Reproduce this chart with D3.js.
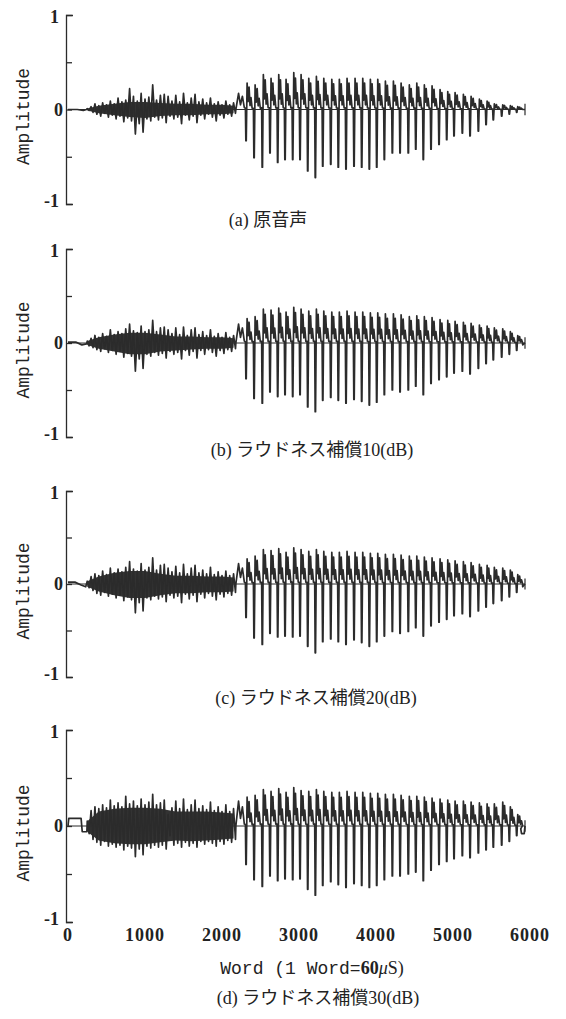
<!DOCTYPE html>
<html>
<head>
<meta charset="utf-8">
<script src="https://cdn.jsdelivr.net/npm/d3@7"></script>
<style>
  body { margin: 0; background: #fff; }
  svg { display: block; }
</style>
</head>
<body>
<svg id="chart" width="566" height="1019"></svg>
<script>
// time axis (words) and tick labels
var xTicks = [0, 1000, 2000, 3000, 4000, 5000, 6000];
var captions = ["(a) 原音声", "(b) ラウドネス補償10(dB)", "(c) ラウドネス補償20(dB)", "(d) ラウドネス補償30(dB)"];

// unvoiced (noise) part: sample times and upper / lower spikes
var noiseTimes = d3.range(250, 2151, 50);
var hiA = [0.01,0.03,0.06,0.04,0.07,0.05,0.09,0.06,0.12,0.08,0.10,0.22,0.14,0.09,0.17,0.11,0.13,0.26,0.10,0.15,0.16,0.14,0.09,0.15,0.08,0.17,0.07,0.12,0.16,0.08,0.11,0.07,0.12,0.06,0.08,0.05,0.09,0.05,0.07];
var loA = [-0.01,-0.03,-0.05,-0.07,-0.04,-0.08,-0.06,-0.10,-0.07,-0.13,-0.09,-0.12,-0.26,-0.15,-0.24,-0.10,-0.12,-0.08,-0.11,-0.09,-0.14,-0.07,-0.10,-0.08,-0.15,-0.06,-0.11,-0.07,-0.14,-0.06,-0.10,-0.05,-0.08,-0.12,-0.06,-0.09,-0.05,-0.07,-0.04];
var hiB = [0.02,0.05,0.08,0.06,0.10,0.07,0.14,0.09,0.12,0.10,0.15,0.20,0.13,0.11,0.18,0.12,0.14,0.24,0.12,0.16,0.17,0.14,0.10,0.16,0.09,0.17,0.08,0.14,0.16,0.09,0.12,0.08,0.14,0.07,0.10,0.06,0.11,0.06,0.08];
var loB = [-0.03,-0.05,-0.07,-0.09,-0.06,-0.10,-0.08,-0.12,-0.09,-0.15,-0.11,-0.14,-0.30,-0.17,-0.27,-0.12,-0.14,-0.10,-0.13,-0.11,-0.16,-0.09,-0.12,-0.10,-0.17,-0.08,-0.13,-0.09,-0.16,-0.08,-0.12,-0.07,-0.10,-0.14,-0.08,-0.11,-0.07,-0.09,-0.06];
var hiC = [0.03,0.08,0.11,0.09,0.14,0.10,0.17,0.12,0.16,0.13,0.18,0.24,0.16,0.14,0.22,0.15,0.18,0.28,0.15,0.20,0.21,0.17,0.13,0.19,0.12,0.21,0.11,0.17,0.20,0.12,0.15,0.11,0.18,0.10,0.13,0.09,0.14,0.09,0.11];
var loC = [-0.04,-0.07,-0.10,-0.12,-0.09,-0.13,-0.11,-0.15,-0.12,-0.18,-0.14,-0.17,-0.31,-0.20,-0.29,-0.15,-0.17,-0.13,-0.16,-0.14,-0.19,-0.12,-0.15,-0.13,-0.20,-0.11,-0.16,-0.12,-0.19,-0.11,-0.15,-0.10,-0.13,-0.17,-0.11,-0.14,-0.10,-0.12,-0.09];
var hiD = [0.05,0.16,0.20,0.18,0.22,0.19,0.27,0.21,0.24,0.20,0.31,0.23,0.26,0.21,0.28,0.22,0.25,0.33,0.22,0.24,0.27,0.12,0.19,0.26,0.18,0.28,0.17,0.22,0.27,0.18,0.21,0.17,0.25,0.16,0.20,0.15,0.22,0.15,0.18];
var loD = [-0.08,-0.14,-0.17,-0.20,-0.16,-0.21,-0.19,-0.22,-0.20,-0.25,-0.21,-0.23,-0.32,-0.24,-0.30,-0.21,-0.23,-0.20,-0.22,-0.20,-0.24,-0.10,-0.20,-0.18,-0.22,-0.17,-0.21,-0.18,-0.22,-0.16,-0.19,-0.16,-0.18,-0.21,-0.16,-0.19,-0.15,-0.17,-0.14];

// dense core of the noise: envelope of the dark band
var coreTimes = [250, 400, 600, 800, 1000, 1200, 1400, 1600, 1800, 2000, 2150];
var coreHiA = [0.01,0.04,0.06,0.08,0.08,0.07,0.06,0.06,0.05,0.05,0.04];
var coreLoA = [-0.01,-0.04,-0.06,-0.08,-0.09,-0.07,-0.06,-0.06,-0.05,-0.05,-0.04];
var coreHiB = [0.02,0.06,0.09,0.11,0.11,0.09,0.07,0.07,0.06,0.06,0.05];
var coreLoB = [-0.02,-0.06,-0.09,-0.12,-0.12,-0.09,-0.08,-0.07,-0.06,-0.06,-0.05];
var coreHiC = [0.03,0.08,0.12,0.14,0.14,0.11,0.09,0.09,0.08,0.08,0.07];
var coreLoC = [-0.03,-0.08,-0.12,-0.15,-0.15,-0.12,-0.10,-0.10,-0.09,-0.09,-0.08];
var coreHiD = [0.05,0.15,0.18,0.19,0.19,0.18,0.15,0.15,0.15,0.14,0.13];
var coreLoD = [-0.06,-0.15,-0.18,-0.19,-0.19,-0.17,-0.15,-0.16,-0.15,-0.14,-0.13];

// voiced part: time of each pitch-period trough, trough depth and following peak
var troughTimes = [2312,2416,2523,2623,2723,2818,2918,3013,3113,3212,3308,3412,3510,3610,3714,3814,3913,4009,4108,4212,4312,4419,4516,4614,4714,4818,4918,5013,5121,5221,5329,5429,5523,5632,5731,5827];
var troughsA = [-0.33,-0.51,-0.61,-0.46,-0.56,-0.53,-0.53,-0.53,-0.65,-0.72,-0.60,-0.58,-0.61,-0.63,-0.60,-0.61,-0.63,-0.61,-0.53,-0.46,-0.46,-0.46,-0.42,-0.53,-0.42,-0.37,-0.32,-0.28,-0.25,-0.28,-0.23,-0.16,-0.11,-0.07,-0.05,-0.03];
var peaksA = [0.28,0.26,0.37,0.33,0.37,0.32,0.39,0.37,0.33,0.35,0.33,0.32,0.32,0.33,0.33,0.33,0.32,0.32,0.30,0.30,0.28,0.26,0.28,0.26,0.25,0.21,0.19,0.18,0.16,0.14,0.11,0.09,0.06,0.05,0.04,0.03];
var troughsB = [-0.38,-0.59,-0.64,-0.52,-0.57,-0.55,-0.57,-0.55,-0.68,-0.73,-0.61,-0.58,-0.61,-0.64,-0.60,-0.62,-0.66,-0.63,-0.55,-0.50,-0.52,-0.50,-0.46,-0.55,-0.43,-0.39,-0.36,-0.32,-0.30,-0.33,-0.27,-0.22,-0.18,-0.15,-0.12,-0.08];
var peaksB = [0.26,0.28,0.36,0.35,0.37,0.33,0.38,0.36,0.34,0.36,0.34,0.33,0.33,0.34,0.33,0.33,0.32,0.32,0.31,0.31,0.30,0.28,0.29,0.28,0.27,0.25,0.24,0.23,0.22,0.21,0.19,0.18,0.16,0.15,0.12,0.08];
var troughsC = [-0.36,-0.58,-0.65,-0.53,-0.57,-0.56,-0.57,-0.56,-0.67,-0.74,-0.62,-0.59,-0.62,-0.65,-0.60,-0.63,-0.67,-0.62,-0.56,-0.51,-0.53,-0.51,-0.47,-0.56,-0.45,-0.41,-0.38,-0.34,-0.32,-0.35,-0.29,-0.25,-0.21,-0.18,-0.14,-0.09];
var peaksC = [0.27,0.30,0.37,0.36,0.38,0.34,0.39,0.37,0.35,0.37,0.35,0.34,0.34,0.35,0.34,0.34,0.33,0.33,0.32,0.32,0.31,0.30,0.30,0.29,0.28,0.27,0.26,0.25,0.24,0.23,0.21,0.20,0.18,0.17,0.15,0.10];
var troughsD = [-0.40,-0.56,-0.63,-0.52,-0.57,-0.55,-0.56,-0.55,-0.66,-0.72,-0.62,-0.58,-0.61,-0.64,-0.60,-0.62,-0.64,-0.62,-0.56,-0.52,-0.52,-0.50,-0.48,-0.57,-0.46,-0.40,-0.37,-0.34,-0.31,-0.33,-0.28,-0.25,-0.22,-0.20,-0.16,-0.10];
var peaksD = [0.30,0.32,0.38,0.36,0.39,0.35,0.40,0.37,0.36,0.38,0.36,0.35,0.35,0.36,0.35,0.35,0.34,0.34,0.33,0.33,0.32,0.31,0.31,0.30,0.29,0.28,0.27,0.26,0.26,0.25,0.24,0.23,0.23,0.25,0.20,0.12];

// short pieces before the noise, at voicing onset and after the last period [word, amplitude]
var leadA = [[0,0],[120,0],[200,-0.01],[240,0]];
var leadB = [[0,0.01],[100,0.01],[180,-0.02],[240,-0.01]];
var leadC = [[0,0.02],[90,0.02],[170,-0.01],[230,-0.03]];
var leadD = [[0,0],[10,0.08],[170,0.08],[185,-0.06],[245,-0.06]];
var onsetA = [[2180,0],[2215,0.17],[2240,0.05],[2265,0.14],[2290,0.02]];
var onsetB = [[2180,0],[2215,0.20],[2240,0.06],[2265,0.16],[2290,0.02]];
var onsetC = [[2180,0],[2215,0.22],[2240,0.07],[2265,0.17],[2290,0.02]];
var onsetD = [[2180,0],[2215,0.26],[2240,0.08],[2265,0.20],[2290,0.02]];
var tailA = [[5905,0],[5935,0]];
var tailB = [[5905,-0.02],[5935,0]];
var tailC = [[5905,-0.03],[5935,0]];
var tailD = [[5880,-0.03],[5890,-0.08],[5925,-0.08],[5935,0]];
var endTime = 5935;

var panels = [
  {top: 15,  bottom: 204, lead: leadA, hi: hiA, lo: loA, coreHi: coreHiA, coreLo: coreLoA, onset: onsetA, troughs: troughsA, peaks: peaksA, tail: tailA, cap: 226, capX: 268},
  {top: 249, bottom: 437, lead: leadB, hi: hiB, lo: loB, coreHi: coreHiB, coreLo: coreLoB, onset: onsetB, troughs: troughsB, peaks: peaksB, tail: tailB, cap: 456, capX: 312},
  {top: 491, bottom: 677, lead: leadC, hi: hiC, lo: loC, coreHi: coreHiC, coreLo: coreLoC, onset: onsetC, troughs: troughsC, peaks: peaksC, tail: tailC, cap: 704, capX: 316},
  {top: 730, bottom: 922, lead: leadD, hi: hiD, lo: loD, coreHi: coreHiD, coreLo: coreLoD, onset: onsetD, troughs: troughsD, peaks: peaksD, tail: tailD, cap: 1004, capX: 318}
];

var svg = d3.select("#chart");
var ink = "#2b2b2b";
var x = d3.scaleLinear().domain([0, 6000]).range([68, 530]);

// each pitch period: sharp trough, tall first peak, then two smaller ripples
function wavePoints(p) {
  var pts = p.lead.slice();
  noiseTimes.forEach(function(t, i) {
    pts.push([t, p.hi[i]]);
    pts.push([t + 25, p.lo[i]]);
  });
  pts = pts.concat(p.onset);
  troughTimes.forEach(function(t, i) {
    var T = (i < troughTimes.length - 1 ? troughTimes[i + 1] : t + 100) - t;
    var v = p.troughs[i], pk = p.peaks[i];
    pts.push([t - 8, 0.05 * pk], [t - 2, v], [t + 3, v], [t + 14, pk],
      [t + 0.26 * T, 0.3 * pk], [t + 0.38 * T, 0.85 * pk],
      [t + 0.5 * T, 0.15 * pk], [t + 0.62 * T, 0.45 * pk], [t + 0.76 * T, 0.05 * pk]);
  });
  return pts.concat(p.tail);
}

panels.forEach(function(p, k) {
  var y = d3.scaleLinear().domain([-1, 1]).range([p.bottom, p.top]);
  var g = svg.append("g");

  // y axis with inward ticks
  g.append("g")
    .attr("transform", "translate(66,0)")
    .call(d3.axisRight(y).tickValues([-1, -0.5, 0, 0.5, 1]).tickSize(6).tickSizeOuter(7).tickFormat(""))
    .call(function(a) {
      a.selectAll("path, line").attr("stroke", ink).attr("stroke-width", 1.3);
    });

  g.selectAll(".ylab")
    .data([[1, "1"], [0, "0"], [-1, "-1"]])
    .enter().append("text")
    .attr("x", function(d) { return d[0] === 0 ? 63 : 59; })
    .attr("y", function(d) { return y(d[0]) + (d[0] === 1 ? 8 : d[0] === 0 ? 6 : 3); })
    .attr("text-anchor", "end")
    .attr("font-family", "Liberation Serif")
    .attr("font-weight", "bold")
    .attr("font-size", 18)
    .attr("fill", "#222")
    .text(function(d) { return d[1]; });

  g.append("text")
    .attr("transform", "translate(29," + (y(0) + 7) + ") rotate(-90)")
    .attr("text-anchor", "middle")
    .attr("font-family", "Liberation Mono")
    .attr("font-size", 18)
    .attr("fill", "#222")
    .text("Amplitude");

  // zero line with end mark
  g.append("line")
    .attr("x1", x(0)).attr("x2", x(endTime))
    .attr("y1", y(0)).attr("y2", y(0))
    .attr("stroke", ink).attr("stroke-width", 1);
  g.append("line")
    .attr("x1", x(endTime)).attr("x2", x(endTime))
    .attr("y1", y(0.06)).attr("y2", y(-0.06))
    .attr("stroke", ink).attr("stroke-width", 1.2);

  // dense band of the unvoiced part
  var core = coreTimes.map(function(t, i) { return [t, p.coreHi[i], p.coreLo[i]]; });
  g.append("path")
    .datum(core)
    .attr("d", d3.area()
      .x(function(d) { return x(d[0]); })
      .y0(function(d) { return y(d[2]); })
      .y1(function(d) { return y(d[1]); }))
    .attr("fill", "#333");

  var line = d3.line()
    .x(function(d) { return x(d[0]); })
    .y(function(d) { return y(d[1]); });

  g.append("path")
    .datum(wavePoints(p))
    .attr("d", line)
    .attr("fill", "none")
    .attr("stroke", ink)
    .attr("stroke-width", 1.7)
    .attr("stroke-linejoin", "round");

  g.append("text")
    .attr("x", p.capX)
    .attr("y", p.cap)
    .attr("text-anchor", "middle")
    .attr("font-family", "Liberation Serif, 'Noto Sans CJK JP'")
    .attr("font-size", 18)
    .attr("fill", "#222")
    .text(captions[k]);

  if (k === 3) {
    g.selectAll(".xlab")
      .data(xTicks)
      .enter().append("text")
      .attr("x", function(d) { return x(d); })
      .attr("y", 941)
      .attr("text-anchor", "middle")
      .attr("font-family", "Liberation Serif")
      .attr("font-weight", "bold")
      .attr("font-size", 18)
      .attr("letter-spacing", 1)
      .attr("fill", "#222")
      .text(function(d) { return d; });

    var xt = g.append("text")
      .attr("x", 312)
      .attr("y", 974)
      .attr("text-anchor", "middle")
      .attr("font-size", 18)
      .attr("fill", "#222");
    xt.append("tspan").attr("font-family", "Liberation Mono").text("Word (1 Word=");
    xt.append("tspan").attr("font-family", "Liberation Serif").attr("font-weight", "bold").text("60");
    xt.append("tspan").attr("font-family", "Liberation Serif").attr("font-style", "italic").text("μ");
    xt.append("tspan").attr("font-family", "Liberation Serif").text("S)");
  }
});
</script>
</body>
</html>
